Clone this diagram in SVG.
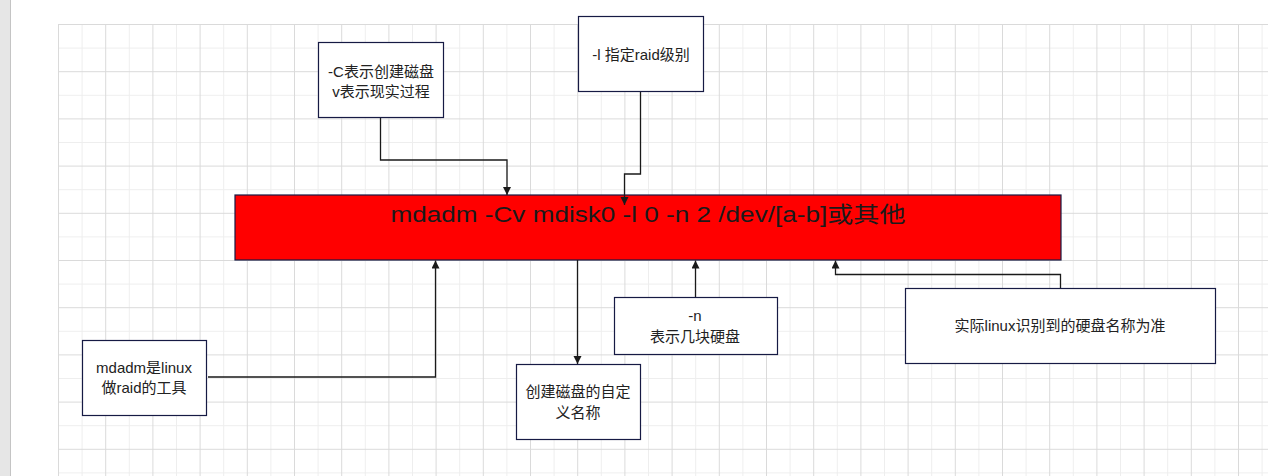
<svg xmlns="http://www.w3.org/2000/svg" width="1268" height="476" viewBox="0 0 1268 476">
<style>
.box{fill:#fff;stroke:#161a44;stroke-width:1.2}
.t{font-family:"Liberation Sans","Noto Sans CJK SC",sans-serif;font-size:15px;fill:#222;text-anchor:middle}
.main{font-family:"Liberation Sans","Noto Sans CJK SC",sans-serif;font-size:22px;fill:#1a1a1a;text-anchor:middle}
.c{fill:none;stroke:#1a1a1a;stroke-width:1.3;marker-end:url(#ah)}
</style>
<defs>
<marker id="ah" markerWidth="10" markerHeight="10" refX="8" refY="4" orient="auto" markerUnits="userSpaceOnUse">
<path d="M0,0 L8,4 L0,8 z" fill="#1a1a1a"/>
</marker>
<pattern id="grid" patternUnits="userSpaceOnUse" x="58" y="24" width="47.2" height="47.2">
<rect x="23.6" y="0" width="1" height="47.2" fill="#eeeeee"/>
<rect x="0" y="23.6" width="47.2" height="1" fill="#eeeeee"/>
<rect x="0" y="0" width="1" height="47.2" fill="#dadada"/>
<rect x="0" y="0" width="47.2" height="1" fill="#dadada"/>
</pattern>
</defs>
<rect x="0" y="0" width="1268" height="476" fill="#fff"/>
<rect x="58" y="24" width="1210" height="452" fill="url(#grid)"/>
<rect x="0" y="0" width="10" height="476" fill="#e6e6e6"/>
<line x1="10.5" y1="0" x2="10.5" y2="476" stroke="#c4c4c4"/>

<g id="main">
<rect x="235" y="195" width="826" height="65" fill="#ff0000" stroke="#161a44" stroke-width="1.2"/>
<text class="main" x="648" y="222" textLength="515" lengthAdjust="spacingAndGlyphs">mdadm -Cv mdisk0 -l 0 -n 2 /dev/[a-b]或其他</text>
</g>

<g id="connectors">
<path class="c" d="M380.5,117 V160 H507 V195"/>
<path class="c" d="M640.5,91 V174 H624.5 V205"/>
<path class="c" d="M208,377 H435.5 V260.5"/>
<path class="c" d="M577.5,260 V364"/>
<path class="c" d="M695.5,297 V260.5"/>
<path class="c" d="M1060.5,288 V274.5 H835.5 V260.5"/>
</g>

<g id="nodeC">
<rect class="box" x="318.5" y="42.5" width="125" height="75"/>
<text class="t" x="381" y="77">-C表示创建磁盘</text>
<text class="t" x="381" y="97">v表示现实过程</text>
</g>

<g id="nodeL">
<rect class="box" x="578.5" y="16.5" width="125" height="75"/>
<text class="t" x="641" y="60">-l 指定raid级别</text>
</g>

<g id="nodeMdadm">
<rect class="box" x="82.5" y="340.5" width="124" height="75"/>
<text class="t" x="144" y="373">mdadm是linux</text>
<text class="t" x="144" y="393">做raid的工具</text>
</g>

<g id="nodeName">
<rect class="box" x="516.5" y="364.5" width="124" height="75"/>
<text class="t" x="578" y="397">创建磁盘的自定</text>
<text class="t" x="578" y="418">义名称</text>
</g>

<g id="nodeN">
<rect class="box" x="614.5" y="297.5" width="163" height="57"/>
<text class="t" x="695" y="321">-n</text>
<text class="t" x="695" y="342">表示几块硬盘</text>
</g>

<g id="nodeDev">
<rect class="box" x="905.5" y="288.5" width="310" height="75"/>
<text class="t" x="1060" y="331">实际linux识别到的硬盘名称为准</text>
</g>
</svg>
